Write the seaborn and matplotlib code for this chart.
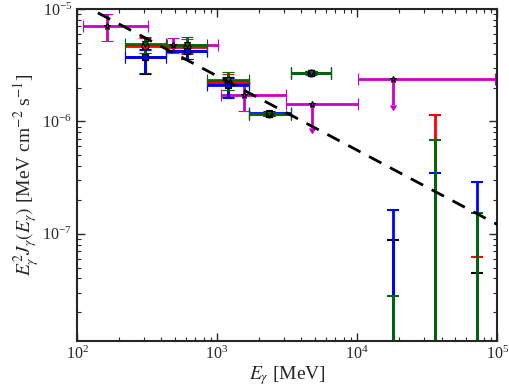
import matplotlib
matplotlib.use("Agg")
import matplotlib.pyplot as plt
import numpy as np
import seaborn as sns

# binned spectrum (four analyses share the same energy bins)
energy = [305, 605, 1200, 2350, 4700]
e_low = [220, 430, 850, 1700, 3350]
e_high = [430, 850, 1700, 3350, 6550]

flux_black = [3.75e-6, 4.25e-6, 2.15e-6, 1.17e-6, 2.70e-6]
lo_black = [2.65e-6, 3.60e-6, 1.65e-6, 1.12e-6, 2.62e-6]
hi_black = [4.40e-6, 4.90e-6, 2.50e-6, 1.22e-6, 2.78e-6]

flux_red = [4.69e-6, 4.59e-6, 2.25e-6, 1.16e-6, 2.68e-6]
lo_red = [4.06e-6, 3.95e-6, 1.90e-6, 1.11e-6, 2.60e-6]
hi_red = [5.50e-6, 5.40e-6, 2.65e-6, 1.21e-6, 2.76e-6]

flux_blue = [3.74e-6, 4.23e-6, 2.11e-6, 1.18e-6, 2.72e-6]
lo_blue = [2.70e-6, 3.62e-6, 1.62e-6, 1.13e-6, 2.64e-6]
hi_blue = [4.30e-6, 4.80e-6, 2.45e-6, 1.23e-6, 2.80e-6]

flux_green = [4.89e-6, 4.78e-6, 2.34e-6, 1.17e-6, 2.70e-6]
lo_green = [4.06e-6, 4.10e-6, 1.90e-6, 1.12e-6, 2.62e-6]
hi_green = [5.64e-6, 5.60e-6, 2.75e-6, 1.22e-6, 2.78e-6]

# high energy bins: only the upper ends are inside the plot
he_energy = [18000, 36000, 72000]
he_low = [1e-10, 1e-10, 1e-10]
he_black = [8.85e-8, 8e-9, 4.5e-8]
he_red = [8e-9, 1.14e-6, 6.25e-8]
he_blue = [1.63e-7, 3.49e-7, 2.90e-7]
he_green = [2.81e-8, 6.85e-7, 1.54e-7]

# magenta analysis with its own bins, last two are upper limits
mag_energy = [164, 485, 1560, 4770, 18000]
mag_e_low = [110, 440, 1070, 3100, 10200]
mag_e_high = [320, 1020, 3100, 10200, 97000]
mag_flux = [7.06e-6, 4.78e-6, 1.73e-6, 1.43e-6, 2.39e-6]
mag_lo = [5.2e-6, 4.06e-6, 1.24e-6, 8.75e-7, 1.40e-6]
mag_hi = [9.0e-6, 5.52e-6, 2.2e-6, 1.43e-6, 2.39e-6]
mag_ul = [False, False, False, True, True]

# power law model
model_energy = [100, 1e5]
model_flux = [1.16e-5, 1.21e-7]

sns.set_style("ticks")
plt.rcParams['font.family'] = ['Liberation Serif', 'DejaVu Serif']
plt.rcParams['mathtext.fontset'] = 'stix'

fig = plt.figure(figsize=(5.1, 3.92), dpi=100)
ax = fig.add_axes([0.151, 0.130, 0.824, 0.847])
ax.set_xscale('log')
ax.set_yscale('log')

style = dict(elinewidth=2, capsize=4, capthick=1.5, markersize=5,
             markeredgecolor='black', markeredgewidth=0.8, linestyle='none')


def xerr_of(x, lo, hi):
    x = np.array(x, float)
    return [x - np.array(lo), np.array(hi) - x]


def yerr_of(y, lo, hi):
    y = np.array(y, float)
    return [y - np.array(lo), np.array(hi) - y]


mag = ax.errorbar(mag_energy, mag_flux,
                  xerr=xerr_of(mag_energy, mag_e_low, mag_e_high),
                  yerr=yerr_of(mag_flux, mag_lo, mag_hi),
                  uplims=mag_ul, color='#c800c8', marker='*',
                  markerfacecolor='#c800c8', **style)
# smaller arrow heads for the upper limits
for cl in mag[1]:
    if cl.get_marker() not in ('|', '_'):
        cl.set_markersize(5)

series = [
    ('black', 's', flux_black, lo_black, hi_black, he_black),
    ('red', 'o', flux_red, lo_red, hi_red, he_red),
    ('blue', 's', flux_blue, lo_blue, hi_blue, he_blue),
    ('#006a00', 'v', flux_green, lo_green, hi_green, he_green),
]
for col, mk, f, lo, hi, he in series:
    ax.errorbar(energy, f, xerr=xerr_of(energy, e_low, e_high),
                yerr=yerr_of(f, lo, hi), color=col, marker=mk,
                markerfacecolor=col, **style)
    ax.errorbar(he_energy, he, yerr=yerr_of(he, he_low, he), color=col,
                linestyle='none', elinewidth=2, capsize=4, capthick=1.5)

sns.lineplot(x=model_energy, y=model_flux, ax=ax, color='black',
             linewidth=2, zorder=5)
ax.lines[-1].set_dashes((5, 3.5))

ax.set_xlim(1e2, 1e5)
ax.set_ylim(1.11e-8, 1e-5)
ax.set_xlabel(r'$E_\gamma$ [MeV]', fontsize=14, labelpad=1)
ax.set_ylabel(r'$E_\gamma^2 J_\gamma(E_\gamma)$ [MeV cm$^{-2}$ s$^{-1}$]',
              fontsize=14, labelpad=0)

for s in ax.spines.values():
    s.set_linewidth(1.5)
ax.tick_params(which='both', direction='in', top=True, right=True,
               labelsize=11.5)
ax.tick_params(which='major', length=6, width=1)
ax.tick_params(which='minor', length=3, width=0.8)

fig.savefig('out.png', dpi=100)
